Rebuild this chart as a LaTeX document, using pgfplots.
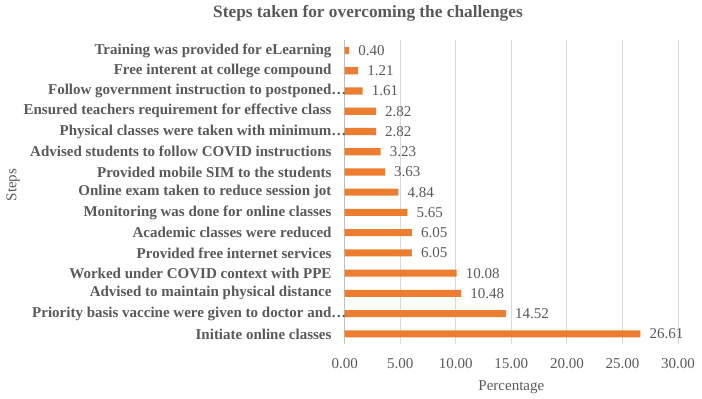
\documentclass[border=0pt]{standalone}
\usepackage{pgfplots}
\pgfplotsset{compat=1.18}
\usepackage{fontspec}
\setmainfont{Liberation Serif}
\definecolor{barorange}{HTML}{ED7D31}
\definecolor{txtgray}{HTML}{595959}
\definecolor{gridgray}{HTML}{D9D9D9}
\definecolor{axgray}{HTML}{BFBFBF}
\begin{document}
\begin{tikzpicture}
\useasboundingbox (-344.7pt,-55pt) rectangle (357.3pt,344pt);
\begin{axis}[
  scale only axis,
  width=333.3pt, height=303.6pt,
  xbar, bar width=0.35,
  xmin=0, xmax=30, ymin=-0.5, ymax=14.5,
  xtick={0,5,...,30},
  ytick={0,...,14},
  yticklabels={
    Initiate online classes,
    Priority basis vaccine were given to doctor and\rlap{…},
    Advised to maintain physical distance,
    Worked under COVID context with PPE,
    Provided free internet services,
    Academic classes were reduced,
    Monitoring was done for online classes,
    Online exam taken to reduce session jot,
    Provided mobile SIM to the students,
    Advised students to follow COVID instructions,
    Physical classes were taken with minimum\rlap{…},
    Ensured teachers requirement for effective class,
    Follow government instruction to postponed\rlap{…},
    Free interent at college compound,
    Training was provided for eLearning},
  /pgf/number format/assume math mode=true,
  xticklabel={\pgfmathprintnumber[fixed,zerofill,precision=2]{\tick}},
  xticklabel style={font=\fontsize{15}{18}\selectfont, text=txtgray, inner sep=0pt, anchor=north, yshift=-14pt},
  yticklabel style={font=\bfseries\fontsize{15}{18}\selectfont, text=txtgray, inner sep=0pt, anchor=east, xshift=-13pt},
  major tick length=0pt,
  axis lines*=left,
  x axis line style={draw=none},
  y axis line style={draw=axgray, line width=0.8pt},
  xmajorgrids, grid style={draw=gridgray, line width=0.8pt},
  nodes near coords,
  nodes near coords style={/pgf/number format/.cd, fixed, zerofill, precision=2, assume math mode=true, /tikz/.cd,
    anchor=west, inner sep=0pt, xshift=9pt, font=\fontsize{15}{18}\selectfont, text=txtgray},
  xlabel={Percentage},
  xlabel style={at={(axis description cs:0.5,0)}, anchor=center, yshift=-43pt, font=\fontsize{15}{18}\selectfont, text=txtgray},
]
\addplot[fill=barorange, draw=none] coordinates {
  (26.61,0) (14.52,1) (10.48,2) (10.08,3) (6.05,4) (6.05,5) (5.65,6)
  (4.84,7) (3.63,8) (3.23,9) (2.82,10) (2.82,11) (1.61,12) (1.21,13) (0.40,14)
};
\end{axis}
\node[font=\bfseries\fontsize{17.3}{20}\selectfont, text=txtgray] at (23.3pt,331pt) {Steps taken for overcoming the challenges};
\node[font=\fontsize{15}{18}\selectfont, text=txtgray, rotate=90] at (-331.7pt,159pt) {Steps};
\end{tikzpicture}
\end{document}
